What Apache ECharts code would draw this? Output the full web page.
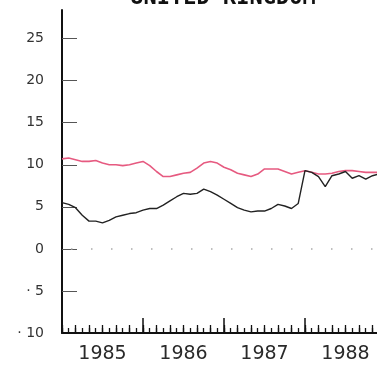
<!DOCTYPE html>
<html>
<head>
<meta charset="utf-8">
<script src="https://cdn.jsdelivr.net/npm/echarts@6/dist/echarts.min.js"></script>
<style>html,body{margin:0;padding:0;background:#fff}#c{width:377px;height:365px}</style>
</head>
<body>
<div id="c"></div>
<script>
// Monthly observations, Jan 1985 (index 0) to Dec 1988 (index 47)
const years = ['1985', '1986', '1987', '1988'];
const yTicks = [-10, -5, 0, 5, 10, 15, 20, 25];
const pinkSeries = [10.7, 10.8, 10.6, 10.4, 10.4, 10.5, 10.2, 10.0, 10.0, 9.9, 10.0, 10.2,
  10.4, 9.9, 9.2, 8.6, 8.6, 8.8, 9.0, 9.1, 9.6, 10.2, 10.4, 10.2,
  9.7, 9.4, 9.0, 8.8, 8.6, 8.9, 9.5, 9.5, 9.5, 9.2, 8.9, 9.1,
  9.3, 9.1, 8.9, 8.9, 9.0, 9.2, 9.3, 9.3, 9.2, 9.1, 9.1, 9.1];
const blackSeries = [5.5, 5.3, 4.9, 4.0, 3.3, 3.3, 3.1, 3.4, 3.8, 4.0, 4.2, 4.3,
  4.6, 4.8, 4.8, 5.2, 5.7, 6.2, 6.6, 6.5, 6.6, 7.1, 6.8, 6.4,
  5.9, 5.4, 4.9, 4.6, 4.4, 4.5, 4.5, 4.8, 5.3, 5.1, 4.8, 5.4,
  9.3, 9.1, 8.6, 7.4, 8.7, 8.9, 9.2, 8.4, 8.7, 8.3, 8.7, 8.9];

const chart = echarts.init(document.getElementById('c'), null, {renderer: 'canvas'});
const pairs = arr => arr.map((v, i) => [i, v]);
const font = '"DejaVu Sans", sans-serif';
const X_MAX = 46.67; // visible part of the month axis (chart is cut at the right edge)
const monthTicks = [], evenTicks = [];
for (let m = 0; m <= 46; m++) { monthTicks.push(m); if (m % 2 === 0) evenTicks.push(m); }
const baseX = {type: 'value', min: 0, max: X_MAX, gridIndex: 0, position: 'bottom', splitLine: {show: false}};

chart.setOption({
  animation: false,
  backgroundColor: '#fff',
  grid: {left: 62, top: 10, bottom: 32, right: 0, containLabel: false},
  graphic: [{
    type: 'text',
    style: {text: 'UNITED KINGDOM', x: 223, y: 9, align: 'center', verticalAlign: 'bottom',
      font: 'bold 22px "DejaVu Sans Mono", monospace', fill: '#111'}
  }],
  xAxis: [
    Object.assign({}, baseX, {
      axisLine: {show: true, onZero: false, lineStyle: {color: '#111', width: 2}},
      axisTick: {show: true, inside: true, length: 15, customValues: [0, 12, 24, 36],
        lineStyle: {color: '#111', width: 1.5}},
      axisLabel: {show: true, customValues: [6, 18, 30, 42], margin: 12,
        formatter: v => years[Math.round((v - 6) / 12)] || '',
        fontSize: 19, color: '#2a2a2a', fontFamily: font}
    }),
    Object.assign({}, baseX, {
      axisLine: {show: false, onZero: false},
      axisTick: {show: true, inside: true, length: 5, customValues: monthTicks,
        lineStyle: {color: '#111', width: 1.3}},
      axisLabel: {show: false}
    }),
    Object.assign({}, baseX, {
      axisLine: {show: false, onZero: false},
      axisTick: {show: true, inside: true, length: 8, customValues: evenTicks,
        lineStyle: {color: '#111', width: 1.3}},
      axisLabel: {show: false}
    })
  ],
  yAxis: {
    type: 'value', min: -10, max: 28.4,
    splitLine: {show: false},
    axisLine: {show: true, onZero: false, lineStyle: {color: '#111', width: 2}},
    axisTick: {show: true, inside: true, length: 15, customValues: [-5, 0, 5, 10, 15, 20, 25],
      lineStyle: {color: '#555', width: 1}},
    axisLabel: {show: true, customValues: yTicks, margin: 18, fontSize: 14, color: '#333', fontFamily: font,
      formatter: v => v < 0 ? '· ' + (-v) : String(v)}
  },
  series: [
    {
      type: 'line', data: pairs(pinkSeries), xAxisIndex: 0, showSymbol: false, symbol: 'none',
      lineStyle: {color: '#e65a80', width: 1.6}, z: 3, clip: true,
      markLine: {silent: true, symbol: 'none', label: {show: false},
        lineStyle: {color: '#aaa', width: 1.5, type: [1.5, 18.5], dashOffset: 11},
        data: [{yAxis: 0}]}
    },
    {
      type: 'line', data: pairs(blackSeries), xAxisIndex: 0, showSymbol: false, symbol: 'none',
      lineStyle: {color: '#222', width: 1.4}, z: 4, clip: true
    }
  ]
});
</script>
</body>
</html>
